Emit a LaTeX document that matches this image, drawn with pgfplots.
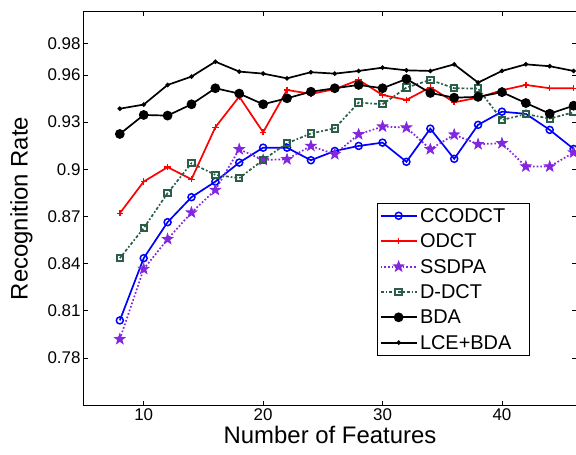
\documentclass[border=0pt]{standalone}
\usepackage{fontspec}
\setmainfont{Liberation Sans}
\usepackage{pgfplots}
\pgfplotsset{compat=1.18}
\definecolor{ddct}{HTML}{2B5E48}
\definecolor{ssdpa}{HTML}{8226E0}

% filled five-pointed star, like MATLAB's pentagram
\pgfdeclareplotmark{pentagram}{%
  \pgfpathmoveto{\pgfqpointpolar{90}{\pgfplotmarksize}}%
  \pgfpathlineto{\pgfqpointpolar{126}{0.4\pgfplotmarksize}}%
  \pgfpathlineto{\pgfqpointpolar{162}{\pgfplotmarksize}}%
  \pgfpathlineto{\pgfqpointpolar{198}{0.4\pgfplotmarksize}}%
  \pgfpathlineto{\pgfqpointpolar{234}{\pgfplotmarksize}}%
  \pgfpathlineto{\pgfqpointpolar{270}{0.4\pgfplotmarksize}}%
  \pgfpathlineto{\pgfqpointpolar{306}{\pgfplotmarksize}}%
  \pgfpathlineto{\pgfqpointpolar{342}{0.4\pgfplotmarksize}}%
  \pgfpathlineto{\pgfqpointpolar{18}{\pgfplotmarksize}}%
  \pgfpathlineto{\pgfqpointpolar{54}{0.4\pgfplotmarksize}}%
  \pgfpathclose
  \pgfusepathqfillstroke}

\begin{document}
\begin{tikzpicture}[x=1bp,y=1bp]
\begin{axis}[
    scale only axis,
    width=492bp, height=393bp,
    xmin=5, xmax=46.2,
    ymin=0.75, ymax=1.0,
    xtick={10,20,30,40},
    ytick={0.78,0.81,0.84,0.87,0.9,0.93,0.96,0.98},
    yticklabels={0.78,0.81,0.84,0.87,0.9,0.93,0.96,0.98},
    tick align=inside,
    major tick length=4bp,
    tick style={black, line width=0.6bp},
    axis line style={black, line width=1bp},
    /pgf/number format/assume math mode=true,
    ticklabel style={font=\fontsize{17}{20}\selectfont},
    xlabel={Number of Features},
    ylabel={Recognition Rate},
    label style={font=\fontsize{24}{28}\selectfont},
    xlabel style={yshift=1bp},
    ylabel style={yshift=8bp},
    legend style={at={(0.596,0.513)}, anchor=north west, draw=black,
        line width=1bp, fill=white, font=\fontsize{20}{24}\selectfont,
        inner sep=2bp, row sep=5bp,
        nodes={inner sep=2.5bp}},
    legend cell align=left,
    legend image code/.code={
        \draw[mark=none, line width=1.8bp] (0bp,0.3bp) -- (36bp,0.3bp);
        \draw plot coordinates {(18bp,0.3bp)};},
    every axis plot/.append style={line width=1.7bp},
]
\addplot[blue, mark=o, mark size=3.5bp, mark options={solid, line width=1.5bp}] coordinates {
(8,0.8038) (10,0.8434) (12,0.8663) (14,0.8822) (16,0.8921) (18,0.9042) (20,0.9137)
(22,0.9137) (24,0.9057) (26,0.9116) (28,0.9148) (30,0.9169) (32,0.9047) (34,0.9258)
(36,0.9066) (38,0.9282) (40,0.9366) (42,0.9352) (44,0.925) (46,0.9129)};
\addplot[red, mark=+, mark size=3.2bp, mark options={solid, line width=1.4bp}] coordinates {
(8,0.872) (10,0.8921) (12,0.9013) (14,0.8936) (16,0.9267) (18,0.9462) (20,0.9235)
(22,0.9504) (24,0.9479) (26,0.9509) (28,0.9568) (30,0.9472) (32,0.9441) (34,0.9521)
(36,0.9426) (38,0.9455) (40,0.9502) (42,0.9536) (44,0.9515) (46,0.9515)};
\addplot[ssdpa, dotted, mark=pentagram, mark size=5.5bp, mark options={solid, fill=ssdpa, line width=0.8bp}] coordinates {
(8,0.7919) (10,0.8365) (12,0.8555) (14,0.8724) (16,0.8868) (18,0.9127) (20,0.9059)
(22,0.9063) (24,0.9148) (26,0.9095) (28,0.9222) (30,0.9271) (32,0.9265) (34,0.9127)
(36,0.922) (38,0.9159) (40,0.9165) (42,0.9017) (44,0.9017) (46,0.9106)};
\addplot[ddct, dash dot, mark=square, mark size=3.2bp, mark options={solid, line width=2bp}] coordinates {
(8,0.8434) (10,0.8625) (12,0.8848) (14,0.9038) (16,0.8964) (18,0.8943) (20,0.9059)
(22,0.9165) (24,0.9227) (26,0.926) (28,0.9424) (30,0.9413) (32,0.9519) (34,0.9568)
(36,0.9515) (38,0.9513) (40,0.9313) (42,0.935) (44,0.9322) (46,0.9362)};
\addplot[black, mark=*, mark size=4bp, mark options={solid}] coordinates {
(8,0.9224) (10,0.9345) (12,0.9341) (14,0.9413) (16,0.9515) (18,0.9481) (20,0.9413)
(22,0.9451) (24,0.9493) (26,0.9515) (28,0.9536) (30,0.9515) (32,0.9574) (34,0.9485)
(36,0.9455) (38,0.946) (40,0.949) (42,0.9421) (44,0.9353) (46,0.9404)};
\addplot[black, mark=*, mark size=1.3bp, mark options={solid}] coordinates {
(8,0.9385) (10,0.9411) (12,0.9536) (14,0.9589) (16,0.9684) (18,0.9621) (20,0.9608)
(22,0.9578) (24,0.9617) (26,0.9608) (28,0.9625) (30,0.9646) (32,0.9629) (34,0.9625)
(36,0.9667) (38,0.9551) (40,0.9625) (42,0.9667) (44,0.9655) (46,0.9625)};
\legend{CCODCT, ODCT, SSDPA, D-DCT, BDA, LCE+BDA\hspace*{14bp}}
\end{axis}
\pgfresetboundingbox
\useasboundingbox (-84bp,-50bp) rectangle (492bp,405bp);
\end{tikzpicture}
\end{document}
